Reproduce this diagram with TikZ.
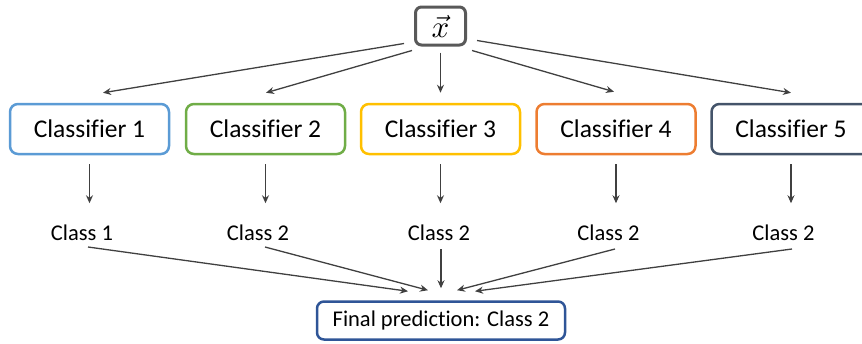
\documentclass[tikz,border=0pt]{standalone}
\usepackage{graphicx}
\usepackage{fontspec}
\setmainfont{Carlito}[Ligatures=NoCommon]
\usetikzlibrary{arrows.meta,calc}
\definecolor{cone}{HTML}{5B9BD5}
\definecolor{ctwo}{HTML}{70AD47}
\definecolor{cthree}{HTML}{FFC000}
\definecolor{cfour}{HTML}{ED7D31}
\definecolor{cfive}{HTML}{44546A}
\definecolor{cgray}{HTML}{595959}
\definecolor{cfinal}{HTML}{2F5597}
\definecolor{carrow}{HTML}{404040}
\tikzset{
  clf/.style={draw, line width=2.5pt, rounded corners=8pt, minimum width=159pt, minimum height=50pt, fill=white, font=\fontsize{25.5}{28}\selectfont, inner sep=0pt},
  lbl/.style={font=\fontsize{22.5}{26}\selectfont, inner sep=0pt},
  arr/.style={draw=carrow, line width=1.3pt, -{Stealth[length=8pt,width=7pt]}},
}
\begin{document}
\begin{tikzpicture}[x=1pt,y=-1pt]
\useasboundingbox (0,0) rectangle (862,343);
\clip (0,0) rectangle (862,343);
\node[draw=cgray, line width=3pt, rounded corners=6pt, minimum width=50pt, minimum height=38pt, inner sep=0pt] (x) at (440.5,26) {\scalebox{3.1}{$\vec{x}$}};
\node[clf, draw=cone] (c1) at (89.5,129) {Classifier 1};
\node[clf, draw=ctwo] (c2) at (265.5,129) {Classifier 2};
\node[clf, draw=cthree] (c3) at (440.5,129) {Classifier 3};
\node[clf, draw=cfour] (c4) at (616,129) {Classifier 4};
\node[clf, draw=cfive] (c5) at (791,129) {Classifier 5};
\node[lbl] (l1) at (82,233) {Class 1};
\node[lbl] (l2) at (258,233) {Class 2};
\node[lbl] (l3) at (439,233) {Class 2};
\node[lbl] (l4) at (608.5,233) {Class 2};
\node[lbl] (l5) at (783.5,233) {Class 2};
\node[draw=cfinal, line width=2.5pt, rounded corners=7pt, minimum width=248pt, minimum height=38pt, inner sep=0pt, font=\fontsize{22.5}{26}\selectfont] (f) at (441,320.5) {Final prediction: Class 2};
% top fan-out
\draw[arr] ($(x.south west)+(-10,-3)$) -- ($(c1.north)+(13.5,-10)$);
\draw[arr] ($(x.south west)+(-2,4)$) -- ($(c2.north)+(0.5,-10)$);
\draw[arr] ($(x.south)+(0,6)$) -- ($(c3.north)+(0,-10)$);
\draw[arr] ($(x.south east)+(5,4)$) -- ($(c4.north)+(-2,-11)$);
\draw[arr] ($(x.south east)+(10,-6)$) -- ($(c5.north)+(0,-10)$);
% classifier to class
\foreach \i in {1,...,5}{
  \draw[arr] ($(c\i.south)+(0,9)$) -- ($(c\i.south)+(0,48)$);
}
% classes to final
\draw[arr] ($(l1)+(6,14)$) -- ($(f.north)+(-33,-9)$);
\draw[arr] ($(l2)+(7,14)$) -- ($(f.north)+(-13,-10)$);
\draw[arr] ($(l3)+(2,16)$) -- ($(f.north)+(0,-12)$);
\draw[arr] ($(l4)+(6.5,16)$) -- ($(f.north)+(16,-10)$);
\draw[arr] ($(l5)+(8.5,16)$) -- ($(f.north)+(34,-9)$);
\end{tikzpicture}
\end{document}
